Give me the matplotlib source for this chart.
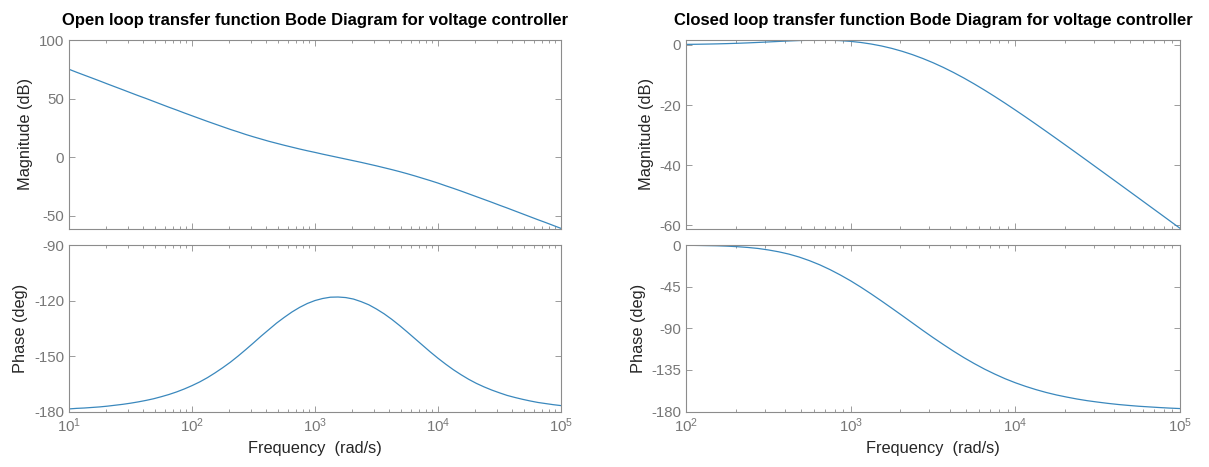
import matplotlib.pyplot as plt
import numpy as np

# frequency points (rad/s), 1/16 decade steps from 10 to 1e5
freq_open = [10.0, 11.5, 13.3, 15.4, 17.8, 20.5, 23.7, 27.4, 31.6, 36.5, 42.2, 48.7, 56.2, 64.9, 75.0, 86.6,
             100.0, 115.5, 133.4, 154.0, 177.8, 205.4, 237.1, 273.8, 316.2, 365.2, 421.7, 487.0, 562.3, 649.4, 749.9, 866.0,
             1000.0, 1154.8, 1333.5, 1539.9, 1778.3, 2053.5, 2371.4, 2738.4, 3162.3, 3651.7, 4217.0, 4869.7, 5623.4, 6493.8, 7498.9, 8659.6,
             10000, 11548, 13335, 15399, 17783, 20535, 23714, 27384, 31623, 36517, 42170, 48697, 56234, 64938, 74989, 86596, 100000]

mag_open = [75.0, 72.5, 70.0, 67.5, 65.0, 62.5, 60.0, 57.5, 55.0, 52.5, 50.1, 47.6, 45.1, 42.6, 40.2, 37.7,
            35.3, 32.9, 30.5, 28.2, 25.9, 23.6, 21.5, 19.3, 17.3, 15.4, 13.5, 11.8, 10.1, 8.5, 6.9, 5.4,
            4.0, 2.5, 1.1, -0.3, -1.7, -3.1, -4.5, -6.0, -7.5, -9.1, -10.7, -12.4, -14.2, -16.1, -18.1, -20.1,
            -22.2, -24.5, -26.7, -29.0, -31.4, -33.8, -36.2, -38.6, -41.1, -43.5, -46.0, -48.5, -51.0, -53.5, -55.9, -58.4, -60.9]

phase_open = [-178.6, -178.3, -178.1, -177.8, -177.5, -177.1, -176.6, -176.1, -175.5, -174.8, -174.0, -173.1, -172.0, -170.8, -169.4, -167.8,
              -166.0, -164.0, -161.7, -159.1, -156.3, -153.3, -150.0, -146.5, -142.9, -139.2, -135.7, -132.2, -129.1, -126.2, -123.7, -121.6,
              -120.0, -118.9, -118.2, -118.1, -118.4, -119.2, -120.6, -122.3, -124.6, -127.2, -130.2, -133.5, -137.0, -140.6, -144.2, -147.8,
              -151.2, -154.4, -157.4, -160.1, -162.6, -164.8, -166.7, -168.4, -169.9, -171.3, -172.4, -173.4, -174.3, -175.1, -175.7, -176.3, -176.8]

# closed loop starts at 100 rad/s
freq_closed = freq_open[16:]

mag_closed = [0.15, 0.19, 0.25, 0.32, 0.41, 0.52, 0.65, 0.80, 0.96, 1.13, 1.29, 1.43, 1.53, 1.57, 1.53, 1.40,
              1.15, 0.78, 0.27, -0.38, -1.18, -2.14, -3.25, -4.52, -5.93, -7.49, -9.19, -11.02, -12.97, -15.02, -17.16, -19.37,
              -21.65, -23.97, -26.34, -28.74, -31.16, -33.60, -36.05, -38.52, -41.00, -43.48, -45.96, -48.45, -50.94, -53.44, -55.93, -58.43, -60.93]

phase_closed = [-0.2, -0.4, -0.6, -0.8, -1.2, -1.8, -2.6, -3.7, -5.3, -7.3, -9.8, -13.0, -16.9, -21.4, -26.6, -32.4,
                -38.7, -45.6, -52.9, -60.5, -68.3, -76.2, -84.2, -92.2, -100.0, -107.5, -114.8, -121.7, -128.1, -134.1, -139.5, -144.5,
                -148.9, -152.8, -156.3, -159.4, -162.1, -164.4, -166.5, -168.3, -169.8, -171.2, -172.4, -173.4, -174.3, -175.0, -175.7, -176.3, -176.8]

plt.rcParams['font.family'] = ['Liberation Sans', 'DejaVu Sans']
plt.rcParams['mathtext.fontset'] = 'custom'
plt.rcParams['mathtext.rm'] = 'Liberation Sans'
plt.rcParams['axes.unicode_minus'] = False

line_col  = '#3a88bd'
tick_col  = '#777777'
spine_col = '#8c8c8c'
label_col = '#262626'


def style_axes(ax, xlim, ylim, yticks):
	ax.set_xscale('log')
	ax.set_xlim(xlim)
	ax.set_ylim(ylim)
	ax.set_yticks(yticks)
	for sp in ax.spines.values():
		sp.set_color(spine_col)
		sp.set_linewidth(0.8)
	ax.tick_params(which='both', direction='in', top=True, right=True,
				   colors=spine_col, labelcolor=tick_col, labelsize=10.8, width=0.6)
	ax.tick_params(which='major', length=4)
	ax.tick_params(which='minor', length=2.5)


fig = plt.figure(figsize=(12.09, 4.67), dpi=100)

# open loop
ax1 = fig.add_axes([0.0571, 0.5107, 0.4069, 0.4036])
ax1.plot(freq_open, mag_open, color=line_col, lw=0.9)
style_axes(ax1, (10, 1e5), (-61, 100), [-50, 0, 50, 100])
ax1.tick_params(which='both', labelbottom=False)
ax1.set_ylabel('Magnitude (dB)', fontsize=11.8, color=label_col)
ax1.set_title('Open loop transfer function Bode Diagram for voltage controller',
			  fontsize=12, fontweight='bold', pad=11)

ax2 = fig.add_axes([0.0571, 0.1188, 0.4069, 0.3565])
ax2.plot(freq_open, phase_open, color=line_col, lw=0.9)
style_axes(ax2, (10, 1e5), (-180, -90), [-180, -150, -120, -90])
ax2.set_ylabel('Phase (deg)', fontsize=11.8, color=label_col)
ax2.set_xlabel('Frequency  (rad/s)', fontsize=11.8, color=label_col)

# closed loop
ax3 = fig.add_axes([0.5674, 0.5107, 0.4086, 0.4036])
ax3.plot(freq_closed, mag_closed, color=line_col, lw=0.9)
style_axes(ax3, (100, 1e5), (-61, 1.6), [-60, -40, -20, 0])
ax3.tick_params(which='both', labelbottom=False)
ax3.set_ylabel('Magnitude (dB)', fontsize=11.8, color=label_col)
ax3.set_title('Closed loop transfer function Bode Diagram for voltage controller',
			  fontsize=12, fontweight='bold', pad=11)

ax4 = fig.add_axes([0.5674, 0.1188, 0.4086, 0.3565])
ax4.plot(freq_closed, phase_closed, color=line_col, lw=0.9)
style_axes(ax4, (100, 1e5), (-180, 0), [-180, -135, -90, -45, 0])
ax4.set_ylabel('Phase (deg)', fontsize=11.8, color=label_col)
ax4.set_xlabel('Frequency  (rad/s)', fontsize=11.8, color=label_col)

plt.savefig('out.png')
plt.close(fig)
